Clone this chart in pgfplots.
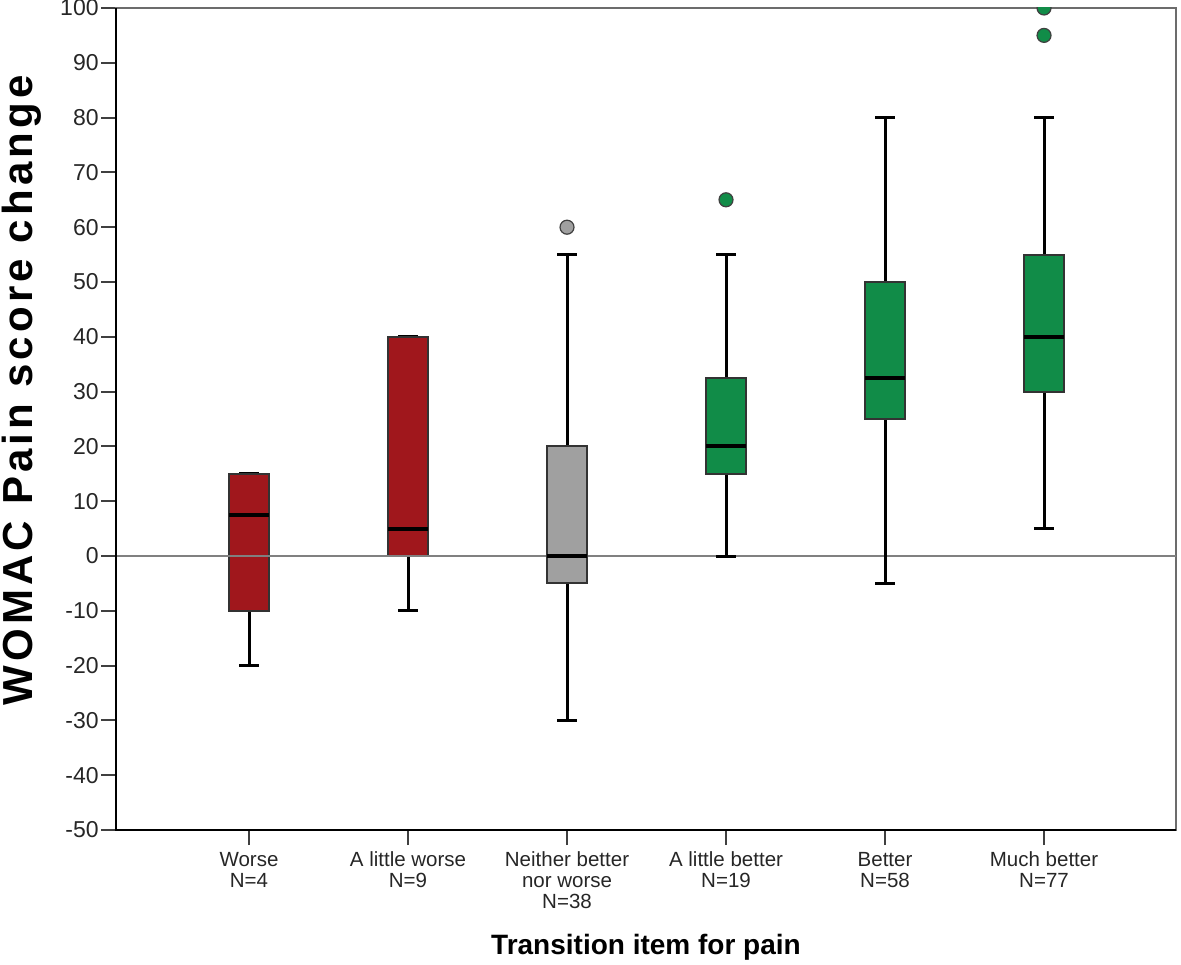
\documentclass[border=0pt]{standalone}
\usepackage{pgfplots}
\pgfplotsset{compat=1.18}
\usepgfplotslibrary{statistics}
\usepackage{fontspec}
\setmainfont{Liberation Sans}
\newfontfamily\ylabfont[LetterSpace=10]{Liberation Sans}
\definecolor{cred}{HTML}{A0171C}
\definecolor{cgreen}{HTML}{118C48}
\definecolor{cgrey}{HTML}{A0A0A0}
\begin{document}
\begin{tikzpicture}
\path[use as bounding box] (0pt,0pt) rectangle (590.5pt,482pt);
\begin{axis}[
  at={(58pt,67pt)}, anchor=south west,
  scale only axis, width=530pt, height=411pt,
  xmin=0.1635, xmax=6.83, ymin=-50, ymax=100,
  ytick={-50,-40,...,100},
  xtick={1,2,3,4,5,6},
  xticklabels={{Worse\\N=4},{A little worse\\N=9},{Neither better\\nor worse\\N=38},{A little better\\N=19},{Better\\N=58},{Much better\\N=77}},
  xticklabel style={align=center, font=\fontsize{10.25}{10.5}\selectfont, text=black!85},
  yticklabel style={font=\fontsize{11.5}{13}\selectfont, text=black!85, inner xsep=1pt},
  /pgf/number format/assume math mode=true,
  tick align=outside, xtick pos=bottom, ytick pos=left,
  major tick length=7.5pt,
  tick style={black!75, line width=1pt},
  axis line style={draw=gray!85!black, line width=1pt},
  clip mode=individual,
  clip marker paths=true,
  xlabel={Transition item for pain},
  xlabel style={at={(axis description cs:0.5,-0.152)}, anchor=base, font=\fontsize{14}{16}\selectfont\bfseries},
  ylabel={WOMAC Pain score change},
  ylabel style={at={(axis description cs:-0.0792,0.535)}, anchor=base, font=\fontsize{21}{24}\selectfont\ylabfont\bfseries},
  boxplot/draw direction=y,
  boxplot/box extend=0.25,
  boxplot/whisker extend=0.125,
  boxplot/every box/.style={draw=black!80, line width=1pt},
  boxplot/every median/.style={draw=black, line width=2pt},
  boxplot/every whisker/.style={draw=black, line width=1.5pt},
  after end axis/.code={
    \draw[black, line width=1pt] (rel axis cs:0,1) -- (rel axis cs:0,0) -- (rel axis cs:1,0);
  },
]
\addplot[boxplot prepared={draw position=1, lower whisker=-20, lower quartile=-10, median=7.5, upper quartile=15, upper whisker=15}, fill=cred, draw=black!80] coordinates {};
\addplot[boxplot prepared={draw position=2, lower whisker=-10, lower quartile=0, median=5, upper quartile=40, upper whisker=40}, fill=cred, draw=black!80] coordinates {};
\draw[gray, line width=0.75pt] (axis cs:0.1635,0) -- (axis cs:6.83,0);
\addplot[boxplot prepared={draw position=3, lower whisker=-30, lower quartile=-5, median=0, upper quartile=20, upper whisker=55}, fill=cgrey, draw=black!80, mark=*, mark size=3.5pt, mark options={fill=cgrey, draw=black!75, line width=0.6pt}] table[row sep=\\, y index=0] {y\\ 60\\};
\addplot[boxplot prepared={draw position=4, lower whisker=0, lower quartile=15, median=20, upper quartile=32.5, upper whisker=55}, fill=cgreen, draw=black!80, mark=*, mark size=3.5pt, mark options={fill=cgreen, draw=black!75, line width=0.6pt}] table[row sep=\\, y index=0] {y\\ 65\\};
\addplot[boxplot prepared={draw position=5, lower whisker=-5, lower quartile=25, median=32.5, upper quartile=50, upper whisker=80}, fill=cgreen, draw=black!80] coordinates {};
\addplot[boxplot prepared={draw position=6, lower whisker=5, lower quartile=30, median=40, upper quartile=55, upper whisker=80}, fill=cgreen, draw=black!80, mark=*, mark size=3.5pt, mark options={fill=cgreen, draw=black!75, line width=0.6pt}] table[row sep=\\, y index=0] {y\\ 95\\ 100\\};
\end{axis}
\end{tikzpicture}
\end{document}
